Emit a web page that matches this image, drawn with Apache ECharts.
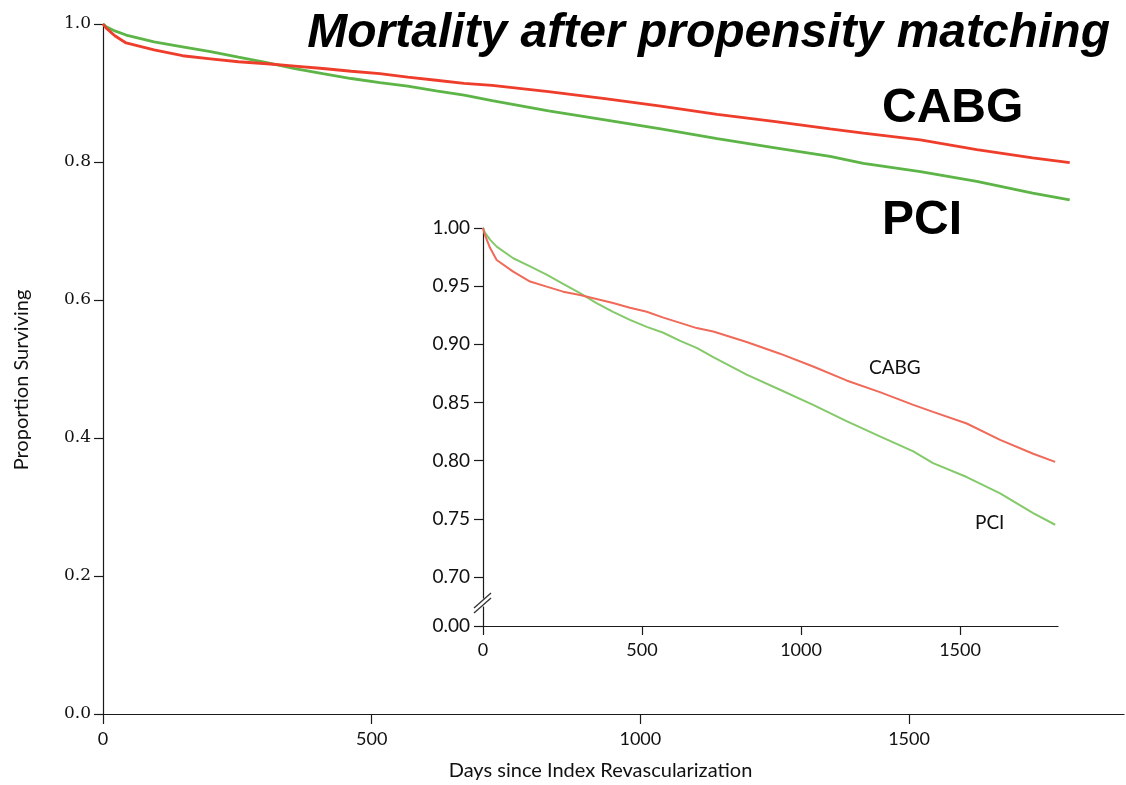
<!DOCTYPE html>
<html>
<head>
<meta charset="utf-8">
<script src="https://cdn.jsdelivr.net/npm/echarts@6/dist/echarts.min.js"></script>
<style>
  html, body { margin: 0; padding: 0; background: #fff; }
  #chart { width: 1126px; height: 785px; }
</style>
</head>
<body>
<div id="chart"></div>
<script>
// Kaplan-Meier survival after propensity matching (days since index revascularization)
const days = [0, 6, 22, 43, 95, 148, 200, 252, 305, 357, 409, 462, 515, 567, 620, 672, 724, 829, 934, 1038, 1143, 1248, 1353, 1415, 1521, 1626, 1730, 1799];
const cabgSurvival = [1.000, 0.994, 0.983, 0.9725, 0.9625, 0.954, 0.9496, 0.9453, 0.9424, 0.939, 0.9355, 0.9315, 0.928, 0.923, 0.9185, 0.914, 0.911, 0.902, 0.892, 0.881, 0.869, 0.859, 0.848, 0.842, 0.832, 0.818, 0.806, 0.799];
const pciSurvival = [1.000, 0.996, 0.990, 0.984, 0.974, 0.967, 0.960, 0.952, 0.944, 0.9355, 0.928, 0.921, 0.915, 0.910, 0.903, 0.897, 0.889, 0.874, 0.861, 0.848, 0.834, 0.821, 0.808, 0.798, 0.786, 0.772, 0.755, 0.745];

// Tick values and labels
const mainXTicks = [0, 500, 1000, 1500];
const mainYTicks = [0, 0.2, 0.4, 0.6, 0.8, 1.0];
const insetXTicks = [0, 500, 1000, 1500];
const insetYTicks = [0.658, 0.70, 0.75, 0.80, 0.85, 0.90, 0.95, 1.00];
const insetYLabels = ['0.00', '0.70', '0.75', '0.80', '0.85', '0.90', '0.95', '1.00'];

const pairs = (xs, ys) => xs.map((x, i) => [x, ys[i]]);

const AXIS = '#1a1a1a';
const SANS = 'Lato, "DejaVu Sans", sans-serif';
const SERIF = '"DejaVu Serif", serif';

const chart = echarts.init(document.getElementById('chart'), null, { renderer: 'canvas' });

const option = {
  backgroundColor: '#ffffff',
  animation: false,
  grid: [
    { left: 103, top: 24, width: 1021, height: 690, outerBoundsMode: 'none', containLabel: false },
    { left: 483, top: 228, width: 575, height: 398, outerBoundsMode: 'none', containLabel: false }
  ],
  xAxis: [
    {
      gridIndex: 0, type: 'value', min: 0, max: 1900,
      name: 'Days since Index Revascularization',
      nameLocation: 'middle', nameGap: 47,
      nameTextStyle: { fontFamily: SANS, fontSize: 20, color: '#111', padding: [0, 26, 0, 0] },
      axisLine: { lineStyle: { color: AXIS, width: 1.2 } },
      axisTick: { show: true, inside: false, length: 10, customValues: mainXTicks, lineStyle: { color: AXIS, width: 1.2 } },
      axisLabel: { customValues: mainXTicks, fontFamily: SANS, fontSize: 18, color: '#111', margin: 16, formatter: v => String(v) },
      splitLine: { show: false }
    },
    {
      gridIndex: 1, type: 'value', min: 0, max: 1808,
      axisLine: { lineStyle: { color: AXIS, width: 1.2 } },
      axisTick: { show: true, inside: false, length: 9, customValues: insetXTicks, lineStyle: { color: AXIS, width: 1.2 } },
      axisLabel: { customValues: insetXTicks, fontFamily: SANS, fontSize: 18, color: '#111', margin: 15, formatter: v => String(v) },
      splitLine: { show: false }
    }
  ],
  yAxis: [
    {
      gridIndex: 0, type: 'value', min: 0, max: 1,
      axisLine: { show: true, lineStyle: { color: AXIS, width: 1.2 } },
      axisTick: { show: true, inside: false, length: 9, customValues: mainYTicks, lineStyle: { color: AXIS, width: 1.2 } },
      axisLabel: {
        customValues: mainYTicks, fontFamily: SERIF, fontSize: 17, color: '#111', margin: 12,
        formatter: v => v.toFixed(1)
      },
      splitLine: { show: false }
    },
    {
      gridIndex: 1, type: 'value', min: 0.658, max: 1,
      axisLine: { show: true, lineStyle: { color: AXIS, width: 1.2 } },
      axisTick: { show: true, inside: false, length: 9, customValues: insetYTicks, lineStyle: { color: AXIS, width: 1.2 } },
      axisLabel: {
        customValues: insetYTicks, fontFamily: SANS, fontSize: 19, color: '#111', margin: 13,
        formatter: v => {
          let best = 0;
          insetYTicks.forEach((t, i) => { if (Math.abs(t - v) < Math.abs(insetYTicks[best] - v)) best = i; });
          return insetYLabels[best];
        }
      },
      splitLine: { show: false }
    }
  ],
  series: [
    {
      name: 'PCI', type: 'line', xAxisIndex: 0, yAxisIndex: 0,
      data: pairs(days, pciSurvival), showSymbol: false,
      lineStyle: { color: '#5db547', width: 2.8 }, z: 3
    },
    {
      name: 'CABG', type: 'line', xAxisIndex: 0, yAxisIndex: 0,
      data: pairs(days, cabgSurvival), showSymbol: false,
      lineStyle: { color: '#ef3d2c', width: 2.8 }, z: 4
    },
    {
      name: 'PCI (detail)', type: 'line', xAxisIndex: 1, yAxisIndex: 1,
      data: pairs(days, pciSurvival), showSymbol: false,
      lineStyle: { color: '#84c96a', width: 2 }, z: 3
    },
    {
      name: 'CABG (detail)', type: 'line', xAxisIndex: 1, yAxisIndex: 1,
      data: pairs(days, cabgSurvival), showSymbol: false,
      lineStyle: { color: '#f06a5a', width: 2 }, z: 4
    }
  ],
  graphic: [
    {
      type: 'text', x: 1110, y: 10,
      style: {
        text: 'Mortality after propensity matching',
        font: 'italic bold 48px "Liberation Sans", Arial, sans-serif',
        fill: '#000', align: 'right', verticalAlign: 'top'
      }
    },
    {
      type: 'text', x: 882, y: 85,
      style: { text: 'CABG', font: 'bold 48px "Liberation Sans", Arial, sans-serif', fill: '#000', align: 'left', verticalAlign: 'top' }
    },
    {
      type: 'text', x: 882, y: 197,
      style: { text: 'PCI', font: 'bold 48px "Liberation Sans", Arial, sans-serif', fill: '#000', align: 'left', verticalAlign: 'top' }
    },
    {
      type: 'text', x: 869, y: 368,
      style: { text: 'CABG', font: '19px ' + SANS, fill: '#111', align: 'left', verticalAlign: 'middle' }
    },
    {
      type: 'text', x: 975, y: 523,
      style: { text: 'PCI', font: '19px ' + SANS, fill: '#111', align: 'left', verticalAlign: 'middle' }
    },
    {
      // y-axis title of the main panel
      type: 'text', x: 22, y: 380, rotation: Math.PI / 2,
      style: { text: 'Proportion Surviving', font: '20px ' + SANS, fill: '#111', align: 'center', verticalAlign: 'middle' }
    }
  ]
};

chart.setOption(option);

// Axis break marks on the detail panel's y axis, between 0.00 and 0.70
const lo = chart.convertToPixel({ gridIndex: 1 }, [0, insetYTicks[0]]);
const hi = chart.convertToPixel({ gridIndex: 1 }, [0, insetYTicks[1]]);
const cx = lo[0], cy = (lo[1] + hi[1]) / 2 + 1;
const breakLines = [-2.5, 2.5].map(d => ({
  type: 'line',
  shape: { x1: cx - 9, y1: cy + 8 + d, x2: cx + 8, y2: cy - 7 + d },
  style: { stroke: '#333', lineWidth: 1.3 },
  z: 10
}));
chart.setOption({
  graphic: option.graphic.concat([
    { type: 'rect', shape: { x: cx - 2, y: cy - 4, width: 4, height: 8 }, style: { fill: '#fff' }, z: 9 }
  ], breakLines)
});
</script>
</body>
</html>
